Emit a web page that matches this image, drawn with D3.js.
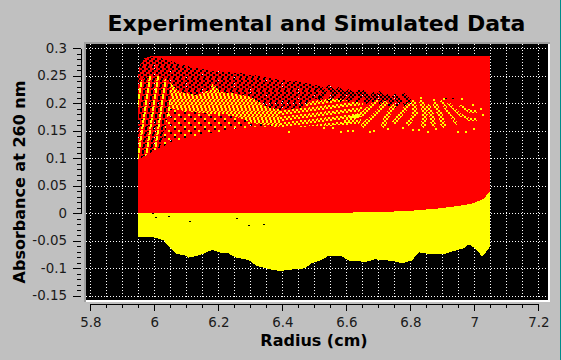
<!DOCTYPE html>
<html><head><meta charset="utf-8">
<style>html,body{margin:0;padding:0;background:#c0c0c0;overflow:hidden}svg{display:block}canvas{position:absolute;left:0;top:0}text{font-family:"DejaVu Sans";fill:#1a1a1a}</style>
<script src="https://cdn.jsdelivr.net/npm/d3@7"></script></head><body><script>
const title="Experimental and Simulated Data", xTitle="Radius (cm)", yTitle="Absorbance at 260 nm";
const xMajor=[5.8,6,6.2,6.4,6.6,6.8,7,7.2];
const xMinor=[5.85,5.9,5.95,6.05,6.1,6.15,6.25,6.3,6.35,6.45,6.5,6.55,6.65,6.7,6.75,6.85,6.9,6.95,7.05,7.1,7.15];
const yMajor=[0.3,0.25,0.2,0.15,0.1,0.05,0,-0.05,-0.1,-0.15];
const yMinor=[0.29,0.28,0.27,0.26,0.24,0.23,0.22,0.21,0.19,0.18,0.17,0.16,0.14,0.13,0.12,0.11,0.09,0.08,0.07,0.06,0.04,0.03,0.02,0.01,-0.01,-0.02,-0.03,-0.04,-0.06,-0.07,-0.08,-0.09,-0.11,-0.12,-0.13,-0.14];
const outerTop=[[5.95,.25],[5.955,.27],[5.97,.282],[5.99,.2858],[7.05,.2858]];
const redLower=[[5.95,0],[6.393,0],[6.679,.0016],[6.763,.0034],[6.82,.0052],[6.893,.0089],[6.955,.0137],[6.997,.018],[7.028,.026],[7.049,.039]];
const yellowLower=[[5.95,-.0438],[5.997,-.0438],[6.028,-.0487],[6.049,-.0626],[6.07,-.074],[6.096,-.0766],[6.106,-.0808],[6.132,-.0778],[6.158,-.0729],[6.181,-.0663],[6.205,-.0717],[6.228,-.0717],[6.252,-.0802],[6.294,-.085],[6.32,-.096],[6.362,-.102],[6.393,-.105],[6.445,-.1014],[6.471,-.1002],[6.492,-.091],[6.518,-.0863],[6.544,-.0778],[6.586,-.0784],[6.612,-.0875],[6.664,-.088],[6.69,-.0838],[6.747,-.0869],[6.773,-.091],[6.804,-.0863],[6.828,-.0711],[6.856,-.0741],[6.903,-.0748],[6.94,-.0681],[6.966,-.0638],[6.984,-.0566],[7.002,-.0638],[7.025,-.079],[7.047,-.0626],[7.05,-.06]];
const blackTop=[[5.95,.24],[5.952,.257],[5.958,.273],[5.971,.282],[5.993,.284],[6.018,.282],[6.049,.277],[6.112,.266],[6.174,.259],[6.268,.255],[6.362,.246],[6.408,.242],[6.455,.239],[6.518,.231]];
const yellowTopLeft=[[5.95,.237],[5.971,.246],[5.996,.251],[6.024,.249],[6.049,.237]];
const yellowTopRight=[[6.049,.237],[6.08,.22],[6.133,.215],[6.174,.224],[6.183,.237],[6.205,.22],[6.237,.219],[6.299,.212],[6.352,.193],[6.393,.188],[6.455,.191],[6.496,.206],[6.518,.21]];
const yellowTopFar=[[6.518,.21],[6.549,.211],[6.59,.206],[6.652,.2]];
const fanLower=[[6.049,.19],[6.018,.12],[5.95,.097]];
const diffuseZone=[[6.049,.237],[6.08,.22],[6.133,.215],[6.133,.183],[6.049,.19]];
const sparseUpper=[[6.049,.19],[6.143,.182],[6.237,.179],[6.308,.164],[6.393,.157]];
const sparseLower=[[6.018,.12],[6.08,.133],[6.143,.142],[6.237,.151],[6.299,.157],[6.393,.157]];
const denseLowerB=[[6.393,.157],[6.455,.157],[6.58,.16],[6.643,.162]];
const chevrons=[[[6.513,.229],[6.533,.221],[6.518,.209]],[[6.544,.229],[6.565,.218],[6.549,.207]],[[6.575,.225],[6.596,.215],[6.58,.206]],[[6.606,.221],[6.624,.215],[6.606,.206]],[[6.638,.221],[6.648,.212],[6.632,.203]],[[6.653,.219],[6.672,.209],[6.662,.203]],[[6.684,.215],[6.697,.207],[6.684,.203]],[[6.703,.217],[6.721,.206],[6.71,.2]],[[6.728,.212],[6.745,.203],[6.731,.198]],[[6.752,.212],[6.768,.203],[6.755,.195]],[[6.778,.215],[6.799,.203],[6.783,.197]]];
const streaks=[[[6.695,.203],[6.653,.182],[6.596,.166]],[[6.721,.2],[6.69,.179],[6.653,.16]],[[6.747,.194],[6.726,.175],[6.716,.16]],[[6.794,.197],[6.773,.182],[6.752,.166]],[[6.81,.203],[6.815,.182],[6.794,.163]],[[6.836,.203],[6.846,.179],[6.841,.16]],[[6.856,.194],[6.867,.179],[6.872,.16]],[[6.877,.2],[6.893,.179],[6.903,.16]],[[6.898,.203],[6.924,.179],[6.945,.163]],[[6.919,.2],[6.955,.179],[6.987,.17],[7.007,.17]],[[6.955,.195],[6.987,.185],[7.007,.185]]];
const yellowStrays=[[6.419,.1494],[6.528,.156],[6.554,.156],[6.58,.1494],[6.601,.1512],[6.617,.1512],[6.672,.15],[6.685,.1512],[6.726,.1543],[6.773,.1573],[6.804,.1524],[6.825,.1524],[6.851,.15],[6.877,.1543],[6.945,.15],[6.971,.15],[6.997,.1543],[6.96,.2088],[6.992,.1985],[7.018,.1906],[7.023,.1803],[6.83,.2118],[6.903,.2088],[6.872,.207]];
const blackStrays=[[5.992,-.0002],[6.002,-.0075],[6.042,-.0044],[6.108,-.0147],[6.255,-.0093],[6.294,-.0214],[6.341,-.0196],[6.908,.21],[6.929,.21]];
// dither tiles: r red, y yellow, . hole showing the canvas behind
const tileBlack=["..rrrr","..rrrr","rrr..r","rrr..r","r..rrr","r..rrr"];
const tileFan=["yyrr..rr","yyrr..rr","yyrr..rr","rrrr..rr","yyrrrrrr","yyrrrr.."];
const tileDiffuse=["yyrr..yy","yyrr..yy","rryyrr..","rryyrr..","..rryyrr","..rryyrr","yy..rryy","yy..rryy"];
const tileSparse=["rrrr..rrrr","rrrr..rrrr","rrrrrrrryy","rrrrrrrryy","..rrrrrrrr","..rrrrrrrr","rrrryyrrrr","rrrryyrrrr"];
const tileDenseA=["yyrr","yyrr","yyrr","rryy","rryy","rryy"];
const tileDenseB=["yyrr","yyrr","rryy","rryy","rrrr","rrrr"];

const W=561,H=360;
const x=d3.scaleLinear().domain([5.8,7.2]).range([90.3,538.3]);
const y=d3.scaleLinear().domain([0,0.3]).range([213.2,48.2]);
const svg=d3.select("body").append("svg").attr("width",W).attr("height",H);
svg.append("rect").attr("width",W).attr("height",H).attr("fill","#c0c0c0");
svg.append("rect").attr("x",560).attr("width",1).attr("height",H).attr("fill","#008a8a");
const rev=a=>a.slice().reverse();
const P=(...parts)=>parts.flat().map(d=>[x(d[0]),y(d[1])]);

svg.append("rect").attr("x",84).attr("y",42).attr("width",466).attr("height",260).attr("fill","#fff");
svg.append("path").attr("d","M84 42H550V44H86V302H84Z").attr("fill","#a0a0a0");
svg.append("rect").attr("x",86).attr("y",44).attr("width",462).attr("height",256).attr("fill","#000");
const grid=svg.append("g").attr("stroke","#fff").attr("stroke-dasharray","1 2").attr("shape-rendering","crispEdges");
grid.selectAll("line.v").data(xMajor.concat(xMinor)).join("line").attr("class","v").attr("x1",d=>Math.round(x(d))+.5).attr("x2",d=>Math.round(x(d))+.5).attr("y1",44).attr("y2",297);
grid.selectAll("line.h").data(yMajor).join("line").attr("class","h").attr("y1",d=>Math.round(y(d))+.5).attr("y2",d=>Math.round(y(d))+.5).attr("x1",86).attr("x2",548);

// data layer, painted pixel by pixel
const zones=[
 {poly:P(yellowTopRight.filter(d=>d[0]<=6.393),rev(sparseUpper)),tile:tileDenseA,slant:.25,rise:0},
 {poly:P(yellowTopRight.filter(d=>d[0]>=6.393),yellowTopFar.slice(1),rev(denseLowerB)),tile:tileDenseB,slant:0,rise:.12},
 {poly:P(diffuseZone),tile:tileDiffuse,slant:0,rise:0},
 {poly:P(yellowTopLeft,fanLower),tile:tileFan,slant:.15,rise:0},
 {poly:P(sparseUpper,rev(sparseLower)),tile:tileSparse,slant:0,rise:0},
 {poly:P(blackTop,rev(yellowTopRight),rev(yellowTopLeft)),tile:tileBlack,slant:.25,rise:0}
];
const redPoly=P(outerTop,rev(redLower)), yellowPoly=P(yellowLower,rev(redLower));
const canvas=d3.select("body").append("canvas").attr("width",W).attr("height",H).node();
const ctx=canvas.getContext("2d");
const img=ctx.createImageData(W,H);
const RGB={r:[255,0,0],y:[255,255,0],k:[0,0,0]};
function put(px,py,c){const o=(py*W+px)*4;if(c==="."){img.data[o+3]=0;return;}const v=RGB[c];img.data[o]=v[0];img.data[o+1]=v[1];img.data[o+2]=v[2];img.data[o+3]=255;}
for(let py=50;py<300;py++)for(let px=136;px<492;px++){
  const q=[px+.5,py+.5];
  if(d3.polygonContains(redPoly,q)){
    let c="r";
    for(const z of zones){ if(d3.polygonContains(z.poly,q)){const t=z.tile,row=t[(py+Math.floor(px*z.rise))%t.length];c=row[(px+Math.floor(py*z.slant))%row.length];break;} }
    put(px,py,c);
  } else if(d3.polygonContains(yellowPoly,q)) put(px,py,"y");
}
function stroke(points,width,fn){
  const seen=new Set();
  for(let i=1;i<points.length;i++){
    const a=points[i-1],b=points[i],n=Math.ceil(Math.hypot(b[0]-a[0],b[1]-a[1])*2);
    for(let k=0;k<=n;k++){
      const cx=a[0]+(b[0]-a[0])*k/n,cy=a[1]+(b[1]-a[1])*k/n;
      for(let dx=-4;dx<=4;dx++)for(let dy=-4;dy<=4;dy++){
        if(Math.hypot(dx,dy)>width/2)continue;
        const px=Math.floor(cx+dx),py=Math.floor(cy+dy),key=px+","+py;
        if(!seen.has(key)){seen.add(key);fn(px,py);}
      }
    }
  }
}
const block=(px,py)=>(Math.floor(px/2)+Math.floor(py/2))%2===0;
chevrons.forEach(c=>stroke(P(c),4,(px,py)=>{if(block(px,py))put(px,py,".");}));
streaks.forEach((s,i)=>stroke(P(s),i>7?2.5:4,(px,py)=>{if(block(px,py))put(px,py,"y");}));
yellowStrays.forEach(d=>{const a=Math.round(x(d[0])),b=Math.round(y(d[1]));[[0,0],[1,0],[0,1],[1,1]].forEach(o=>put(a+o[0],b+o[1],"y"));});
blackStrays.forEach(d=>{const a=Math.round(x(d[0])),b=Math.round(y(d[1]));put(a,b,"k");put(a+1,b,"k");});
ctx.putImageData(img,0,0);

function fmt(v){return String(v);}
function axisStyle(g){g.selectAll("path,line").attr("stroke","#000").attr("shape-rendering","crispEdges");g.selectAll("text").attr("font-size",13.4).attr("fill","#1a1a1a");}
const gx=svg.append("g").attr("transform","translate(0,304)");
gx.append("g").call(d3.axisBottom(x).tickValues(xMajor).tickSize(7).tickSizeOuter(0).tickFormat(fmt).tickPadding(6)).call(axisStyle);
gx.append("g").call(d3.axisBottom(x).tickValues(xMinor).tickSize(4).tickSizeOuter(0).tickFormat("")).call(axisStyle);
const gy=svg.append("g").attr("transform","translate(81,0)");
gy.append("g").call(d3.axisLeft(y).tickValues(yMajor).tickSize(8).tickSizeOuter(0).tickFormat(fmt).tickPadding(6)).call(axisStyle);
gy.append("g").call(d3.axisLeft(y).tickValues(yMinor).tickSize(4).tickSizeOuter(0).tickFormat("")).call(axisStyle);

svg.append("text").attr("x",316.5).attr("y",31).attr("text-anchor","middle").attr("font-size",22).attr("font-weight","bold").style("fill","#000").text(title);
svg.append("text").attr("x",314).attr("y",346).attr("text-anchor","middle").attr("font-size",16).attr("font-weight","bold").style("fill","#000").text(xTitle);
svg.append("text").attr("transform","translate(25,182) rotate(-90)").attr("text-anchor","middle").attr("font-size",16).attr("font-weight","bold").style("fill","#000").text(yTitle);
</script></body></html>
